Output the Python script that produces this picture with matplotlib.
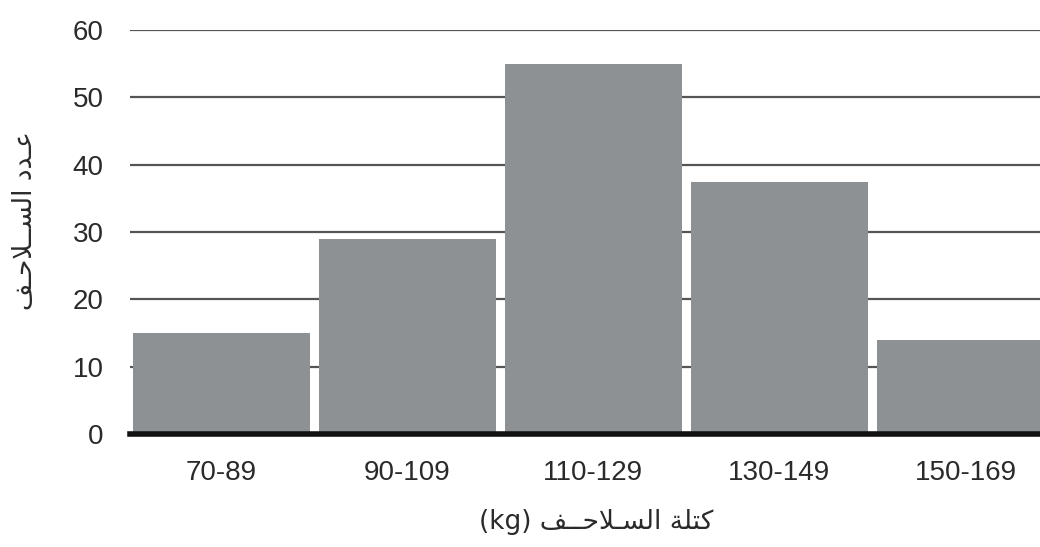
import matplotlib
matplotlib.use("Agg")
import matplotlib.pyplot as plt

categories = ["70-89", "90-109", "110-129", "130-149", "150-169"]
counts = [15, 29, 55, 37.5, 14]
yticks = [0, 10, 20, 30, 40, 50, 60]

# Arabic labels (presentation forms, visual order for LTR rendering)
ylabel_ar = "\uFED2\u0640\uFEA3\uFEFC\u0640\u0640\uFEB4\uFEDF\uFE8D \uFEA9\uFEAA\u0640\uFECB"          # عدد السلاحف
xlabel_ar = "(kg) \uFED2\u0640\u0640\uFEA3\uFEFC\u0640\uFEB4\uFEDF\uFE8D \uFE94\uFEE0\uFE98\uFEDB"  # كتلة السلاحف (kg)

fig = plt.figure(figsize=(10.4, 5.47), dpi=100)
ax = fig.add_axes([130/1040, 1-434/547, 1-130/1040, (434-30)/547])

x = list(range(len(categories)))
ax.bar(x, counts, width=0.95, color="#8e9193", zorder=2)

ax.set_ylim(0, 60)
ax.set_xlim(-0.49, 4.40)
ax.set_yticks(yticks)
ax.set_xticks(x)
ax.set_xticklabels(categories)
for t in yticks[1:]:
    ax.axhline(t, color="#555555", lw=1.6, zorder=1)
ax.axhline(0, color="#111111", lw=4, zorder=3, clip_on=False)

for s in ax.spines.values():
    s.set_visible(False)
ax.tick_params(axis="both", length=0, labelsize=20, colors="#2a2a2a")
ax.tick_params(axis="y", pad=19)
ax.tick_params(axis="x", pad=19)
for lab in ax.get_xticklabels() + ax.get_yticklabels():
    lab.set_family(["Liberation Sans", "DejaVu Sans"])

fig.text(25/1040, 1-221/547, ylabel_ar, rotation=90, ha="center", va="center",
         fontsize=19, color="#2a2a2a", family=["DejaVu Sans"])
fig.text(596/1040, 1-522/547, xlabel_ar, ha="center", va="center",
         fontsize=19, color="#2a2a2a", family=["DejaVu Sans"])

fig.savefig("out.png", dpi=100)
